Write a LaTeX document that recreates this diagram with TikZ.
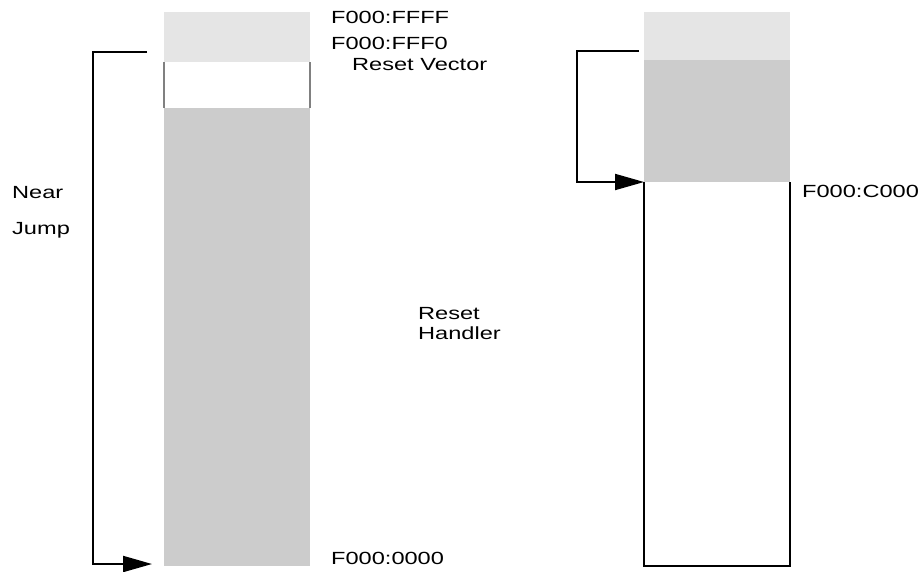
\documentclass[tikz,border=0pt]{standalone}
\usepackage{fontspec}
\setmainfont{Liberation Sans}
\usepackage{graphicx}
\usetikzlibrary{positioning, arrows.meta}
\newcommand{\widetxt}[1]{\scalebox{1.34}[1]{#1}}
\definecolor{romhi}{HTML}{E5E5E5}
\definecolor{romlo}{HTML}{CCCCCC}
\tikzset{cell/.style={inner sep=0pt, outer sep=0pt, minimum width=146pt}}
\tikzset{addr/.style={anchor=base west, inner sep=0pt, font=\fontsize{17.6}{21}\selectfont}}
\tikzset{jmp/.style={line width=2pt, -{Triangle[length=29pt, width=16pt]}}}

\begin{document}
\begin{tikzpicture}[x=1pt, y=-1pt]
  \useasboundingbox (0,0) rectangle (922,571);

  % ---- left column: top of the segment, reset vector, handler
  \node[cell, fill=romhi, minimum height=50pt, anchor=north west] (topL) at (164,12) {};
  \node[cell, minimum height=46pt, anchor=north] (vecL) at (topL.south) {};
  \node[cell, fill=romlo, minimum height=458pt, anchor=north] (hdlL) at (vecL.south) {};
  \draw[gray, line width=1.2pt] (vecL.north west) -- (vecL.south west)
                                (vecL.north east) -- (vecL.south east);

  % ---- right column: top, boot block, free space below it
  \node[cell, fill=romhi, minimum height=48pt, anchor=north west] (topR) at (644,12) {};
  \node[cell, fill=romlo, minimum height=122pt, anchor=north] (bootR) at (topR.south) {};
  \node[cell, minimum height=384pt, anchor=north] (freeR) at (bootR.south) {};
  \draw[line width=2pt] (freeR.north west) -- (freeR.south west)
                        -- (freeR.south east) -- (freeR.north east);

  % ================= the two jumps ===========================================
  \coordinate (nearFrom) at ([xshift=-17pt, yshift=-15pt]topL.north west |- topL.west);
  \coordinate (nearTo) at ([xshift=-12pt, yshift=2pt]hdlL.south west);
  \draw[jmp] (nearFrom) -- ++(-54,0) |- (nearTo);

  \coordinate (retFrom) at ([xshift=-5pt, yshift=-15pt]topR.west);
  \draw[jmp] (retFrom) -- ++(-62,0) |- (freeR.north west);

  % ================= labels ==================================================
  \node[addr] (aFFFF) at (331,23) {\widetxt{F000:FFFF}};
  \node[addr] (aFFF0) at (331,49) {\widetxt{F000:FFF0}};
  \node[addr] (vecLbl) at (352,70) {\widetxt{Reset Vector}};
  \node[addr] (near) at (12,198) {\widetxt{Near}};
  \node[addr] (jump) at (12,234) {\widetxt{Jump}};
  \node[addr] (hdl1) at (418,319) {\widetxt{Reset}};
  \node[addr] (hdl2) at (418,339) {\widetxt{Handler}};
  \node[addr] (a0000) at (331,564) {\widetxt{F000:0000}};
  \node[addr] (aC000) at (802,197) {\widetxt{F000:C000}};

\end{tikzpicture}
\end{document}
